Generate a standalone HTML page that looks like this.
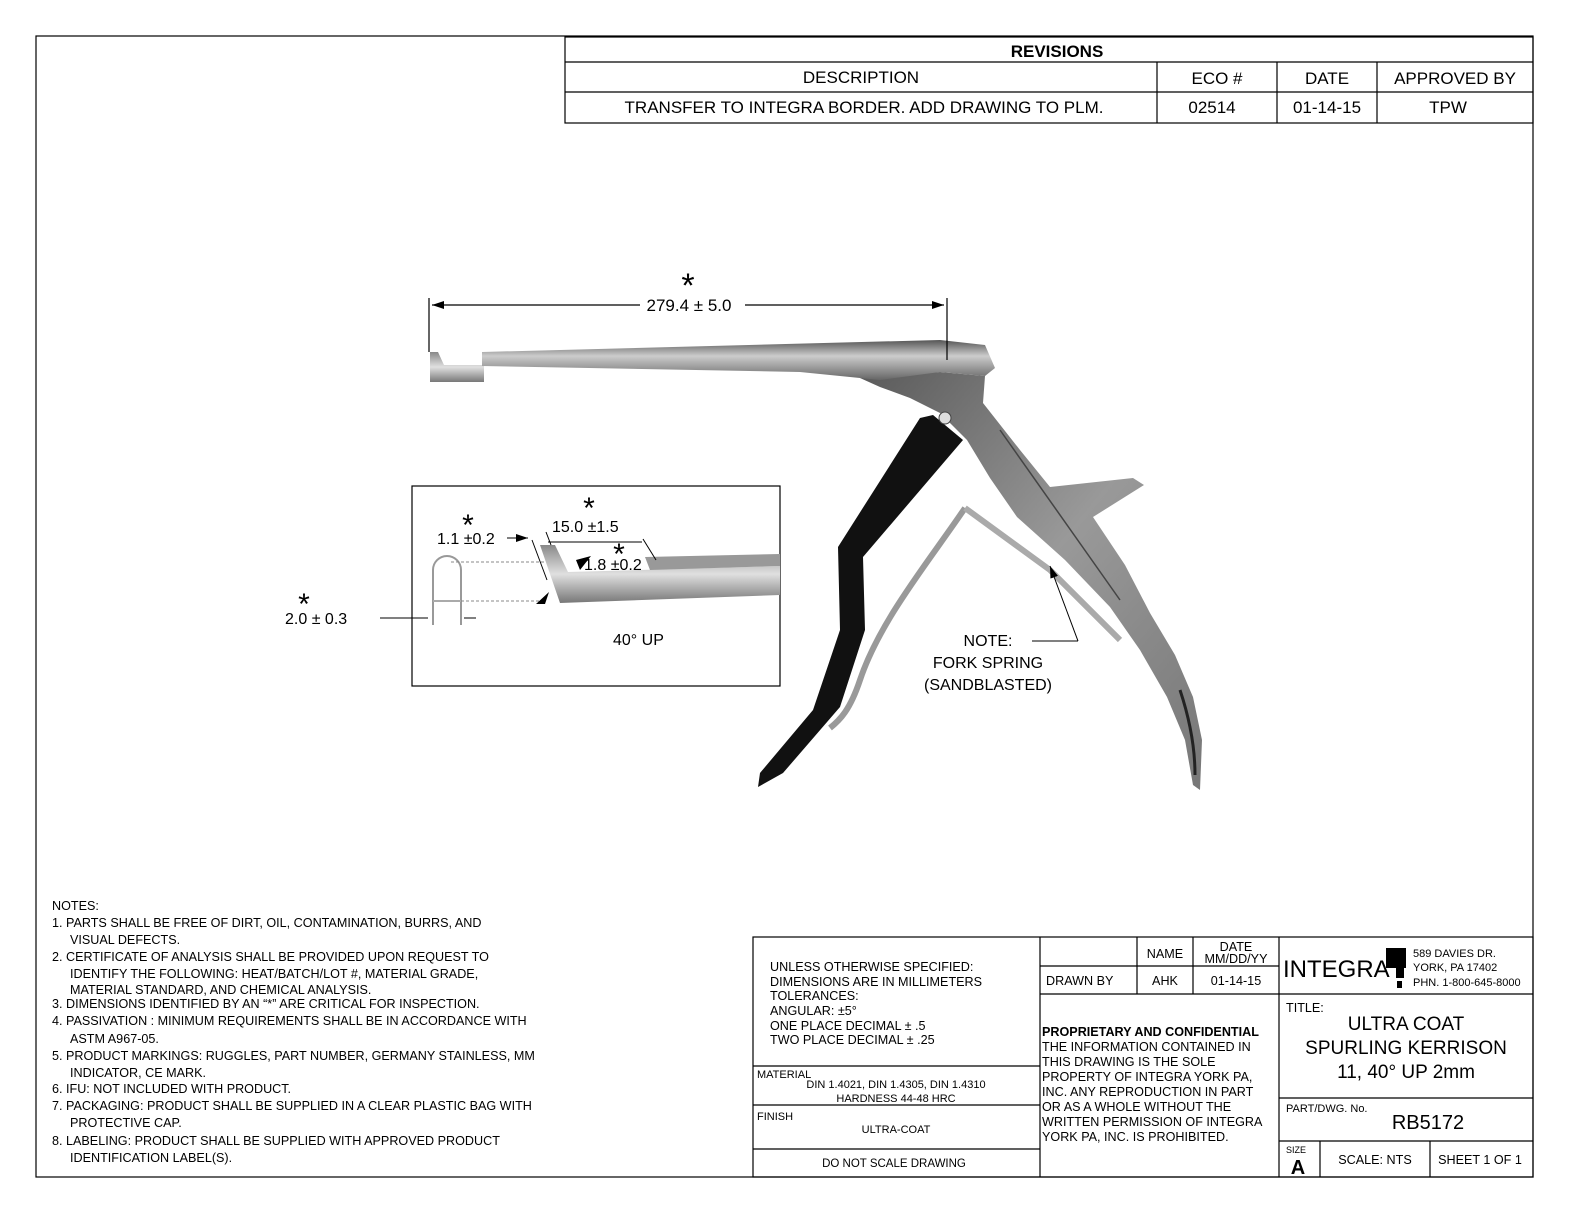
<!DOCTYPE html>
<html><head><meta charset="utf-8"><style>
html,body{margin:0;padding:0;background:#fff;overflow:hidden;width:1584px;height:1224px;}
svg{display:block;font-family:"Liberation Sans",sans-serif;}
</style></head><body>
<svg width="1584" height="1224" viewBox="0 0 1584 1224" xmlns="http://www.w3.org/2000/svg">
<defs>
<linearGradient id="sh" x1="0" y1="0" x2="0" y2="1">
<stop offset="0" stop-color="#555"/><stop offset=".4" stop-color="#ccc"/><stop offset="1" stop-color="#666"/></linearGradient>
<linearGradient id="mt" x1="0" y1="0" x2="1" y2="1">
<stop offset="0" stop-color="#5a5a5a"/><stop offset=".5" stop-color="#999"/><stop offset="1" stop-color="#777"/></linearGradient>
<linearGradient id="tp" x1="0" y1="0" x2="0" y2="1">
<stop offset="0" stop-color="#888"/><stop offset=".5" stop-color="#e0e0e0"/><stop offset="1" stop-color="#777"/></linearGradient>
<marker id="ar" markerWidth="12" markerHeight="8" refX="12" refY="4" orient="auto" markerUnits="userSpaceOnUse"><path d="M0,0 L12,4 L0,8z" fill="#000"/></marker>
</defs>
<g fill="none" stroke="#000" stroke-width="1.2">
<rect x="36" y="36" width="1497" height="1141"/>
<rect x="565" y="37" width="968" height="86"/>
<line x1="565" y1="62" x2="1533" y2="62"/><line x1="565" y1="92" x2="1533" y2="92"/>
<line x1="1157" y1="62" x2="1157" y2="123"/><line x1="1277" y1="62" x2="1277" y2="123"/><line x1="1377" y1="62" x2="1377" y2="123"/>
<rect x="753" y="937" width="780" height="240"/>
<line x1="1040" y1="937" x2="1040" y2="1177"/><line x1="1279" y1="937" x2="1279" y2="1177"/>
<line x1="753" y1="1066" x2="1040" y2="1066"/><line x1="753" y1="1105" x2="1040" y2="1105"/><line x1="753" y1="1149" x2="1040" y2="1149"/>
<line x1="1040" y1="966" x2="1279" y2="966"/><line x1="1040" y1="994" x2="1279" y2="994"/>
<line x1="1137" y1="937" x2="1137" y2="994"/><line x1="1193" y1="937" x2="1193" y2="994"/>
<line x1="1279" y1="994" x2="1533" y2="994"/><line x1="1279" y1="1098" x2="1533" y2="1098"/><line x1="1279" y1="1141" x2="1533" y2="1141"/>
<line x1="1320" y1="1141" x2="1320" y2="1177"/><line x1="1430" y1="1141" x2="1430" y2="1177"/>
<rect x="412" y="486" width="368" height="200"/>
</g>
<g font-size="17" text-anchor="middle">
<text x="1057" y="57" font-weight="bold">REVISIONS</text>
<text x="861" y="83">DESCRIPTION</text><text x="1217" y="84">ECO #</text><text x="1327" y="84">DATE</text><text x="1455" y="84">APPROVED BY</text>
<text x="864" y="113">TRANSFER TO INTEGRA BORDER. ADD DRAWING TO PLM.</text><text x="1212" y="113">02514</text><text x="1327" y="113">01-14-15</text><text x="1448" y="113">TPW</text>
</g>
<!-- instrument -->
<path d="M430,352 L438,352 L444,365 L484,365 L484,382 L430,382 Z" fill="url(#tp)"/>
<path d="M860,378 L940,372 L985,376 L983,403 L1020,450 L1050,487 L1133,478 L1144,485 L1093,517 L1125,565 L1150,613 L1175,655 L1193,697 L1202,740 L1200,790 L1193,785 L1185,740 L1167,697 L1140,650 L1110,607 L1065,560 L1017,517 L990,478 L967,440 L940,413 L910,398 L880,387 Z" fill="url(#mt)"/>
<path d="M482,352 L940,340 L985,345 L995,368 L985,376 L940,372 L880,380 L800,372 L482,366 Z" fill="url(#sh)"/>
<path d="M1180,690 C1190,720 1195,750 1195,775" fill="none" stroke="#222" stroke-width="3"/>
<path d="M1000,430 L1120,600" stroke="#444" stroke-width="1.5"/>
<path d="M920,418 L933,415 L963,440 L863,557 L865,630 L840,707 L783,773 L758,787 L760,773 L813,710 L840,630 L838,547 Z" fill="#111"/>
<path d="M965,508 C930,560 880,620 860,680 C850,710 840,720 830,728" fill="none" stroke="#999" stroke-width="6"/>
<path d="M965,508 L1050,570 L1120,640" fill="none" stroke="#aaa" stroke-width="6"/>
<circle cx="945" cy="418" r="6" fill="#ddd" stroke="#444"/>
<!-- top dimension -->
<g stroke="#000" stroke-width="1.2">
<line x1="429" y1="298" x2="429" y2="352"/><line x1="947" y1="298" x2="947" y2="360"/>
<line x1="640" y1="305" x2="432" y2="305" marker-end="url(#ar)"/>
<line x1="745" y1="305" x2="944" y2="305" marker-end="url(#ar)"/>
</g>
<text x="688" y="297" font-size="34" text-anchor="middle">*</text>
<text x="689" y="311" font-size="17" text-anchor="middle">279.4 ± 5.0</text>
<!-- inset -->
<path d="M540,545 L555,545 L568,572 L780,566 L780,595 L560,603 Z" fill="url(#tp)"/>
<path d="M645,557 L780,554 L780,566 L650,570 Z" fill="#999"/>
<path d="M433,625 L433,570 A14,14 0 0 1 461,570 L461,625" fill="none" stroke="#999" stroke-width="2"/>
<line x1="433" y1="601" x2="461" y2="601" stroke="#aaa" stroke-width="2"/>
<g stroke="#888" stroke-dasharray="3,2" stroke-width="1"><line x1="451" y1="562" x2="545" y2="562"/><line x1="461" y1="601" x2="540" y2="601"/></g>
<g stroke="#000" stroke-width="1">
<line x1="507" y1="538" x2="528" y2="538" marker-end="url(#ar)"/>
<line x1="532" y1="540" x2="547" y2="580"/>
<line x1="546" y1="532" x2="551" y2="545"/><line x1="643" y1="539" x2="656" y2="560"/>
<line x1="548" y1="542" x2="642" y2="542"/>
<line x1="380" y1="618" x2="428" y2="618"/>
<line x1="464" y1="618" x2="476" y2="618"/>
</g>
<path d="M576,560 L591,556 L580,570Z M536,604 L549,592 L545,604Z" fill="#000"/>
<g font-size="30" text-anchor="middle"><text x="468" y="535">*</text><text x="589" y="518">*</text><text x="619" y="564">*</text><text x="304" y="614">*</text></g>
<g font-size="16">
<text x="437" y="544">1.1 ±0.2</text><text x="552" y="532">15.0 ±1.5</text><text x="584" y="570">1.8 ±0.2</text>
<text x="285" y="624">2.0 ± 0.3</text><text x="613" y="645">40° UP</text>
</g>
<g font-size="16" text-anchor="middle"><text x="988" y="646">NOTE:</text><text x="988" y="668">FORK SPRING</text><text x="988" y="690">(SANDBLASTED)</text></g>
<g stroke="#000" stroke-width="1"><line x1="1032" y1="641" x2="1078" y2="641"/><line x1="1078" y1="641" x2="1050" y2="566" marker-end="url(#ar)"/></g>
<!-- notes -->
<g font-size="12.6">
<text x="52" y="910">NOTES:</text>
<text x="52" y="927">1.  PARTS SHALL BE FREE OF DIRT, OIL, CONTAMINATION, BURRS, AND</text>
<text x="70" y="944">VISUAL DEFECTS.</text>
<text x="52" y="961">2.  CERTIFICATE OF ANALYSIS SHALL BE PROVIDED UPON REQUEST TO</text>
<text x="70" y="978">IDENTIFY THE FOLLOWING: HEAT/BATCH/LOT #, MATERIAL GRADE,</text>
<text x="70" y="994">MATERIAL STANDARD, AND CHEMICAL ANALYSIS.</text>
<text x="52" y="1008">3.  DIMENSIONS IDENTIFIED BY AN “*” ARE CRITICAL FOR INSPECTION.</text>
<text x="52" y="1025">4.  PASSIVATION : MINIMUM REQUIREMENTS SHALL BE IN ACCORDANCE WITH</text>
<text x="70" y="1043">ASTM A967-05.</text>
<text x="52" y="1060">5.  PRODUCT MARKINGS: RUGGLES, PART NUMBER, GERMANY STAINLESS, MM</text>
<text x="70" y="1077">INDICATOR, CE MARK.</text>
<text x="52" y="1093">6.  IFU: NOT INCLUDED WITH PRODUCT.</text>
<text x="52" y="1110">7.  PACKAGING: PRODUCT  SHALL BE SUPPLIED IN A CLEAR PLASTIC BAG WITH</text>
<text x="70" y="1127">PROTECTIVE CAP.</text>
<text x="52" y="1145">8.  LABELING: PRODUCT SHALL BE SUPPLIED WITH APPROVED PRODUCT</text>
<text x="70" y="1162">IDENTIFICATION LABEL(S).</text>
</g>
<!-- title block text -->
<g font-size="12.6">
<text x="770" y="971">UNLESS OTHERWISE SPECIFIED:</text>
<text x="770" y="986">DIMENSIONS ARE IN MILLIMETERS</text>
<text x="770" y="1000">TOLERANCES:</text>
<text x="770" y="1015">ANGULAR: ±5°</text>
<text x="770" y="1030">ONE PLACE DECIMAL ± .5</text>
<text x="770" y="1044">TWO PLACE DECIMAL ± .25</text>
<text x="757" y="1078" font-size="11">MATERIAL</text>
<text x="896" y="1088" font-size="11" text-anchor="middle">DIN 1.4021, DIN 1.4305, DIN 1.4310</text>
<text x="896" y="1102" font-size="11" text-anchor="middle">HARDNESS 44-48 HRC</text>
<text x="757" y="1120" font-size="11">FINISH</text>
<text x="896" y="1133" font-size="11" text-anchor="middle">ULTRA-COAT</text>
<text x="894" y="1167" font-size="11.5" text-anchor="middle">DO NOT SCALE DRAWING</text>
<text x="1165" y="958" text-anchor="middle">NAME</text>
<text x="1236" y="951" text-anchor="middle">DATE</text><text x="1236" y="963" text-anchor="middle">MM/DD/YY</text>
<text x="1046" y="985">DRAWN BY</text><text x="1165" y="985" text-anchor="middle">AHK</text><text x="1236" y="985" text-anchor="middle">01-14-15</text>
<text x="1042" y="1036" font-weight="bold">PROPRIETARY AND CONFIDENTIAL</text>
<text x="1042" y="1051">THE INFORMATION CONTAINED IN</text>
<text x="1042" y="1066">THIS DRAWING IS THE SOLE</text>
<text x="1042" y="1081">PROPERTY OF INTEGRA YORK PA,</text>
<text x="1042" y="1096">INC.  ANY REPRODUCTION IN PART</text>
<text x="1042" y="1111">OR AS A WHOLE WITHOUT THE</text>
<text x="1042" y="1126">WRITTEN PERMISSION OF INTEGRA</text>
<text x="1042" y="1141">YORK PA, INC. IS PROHIBITED.</text>
<text x="1286" y="1012">TITLE:</text>
<text x="1286" y="1112" font-size="11">PART/DWG. No.</text>
<text x="1286" y="1153" font-size="9">SIZE</text>
<text x="1375" y="1164" text-anchor="middle">SCALE: NTS</text>
<text x="1480" y="1164" text-anchor="middle">SHEET 1 OF 1</text>
<text x="1413" y="957" font-size="11">589 DAVIES DR.</text>
<text x="1413" y="971" font-size="11">YORK, PA 17402</text>
<text x="1413" y="986" font-size="11">PHN. 1-800-645-8000</text>
</g>
<text x="1283" y="977" font-size="24">INTEGRA</text>
<rect x="1386" y="948" width="20" height="20" fill="#000"/><rect x="1396" y="968" width="8" height="10" fill="#000"/><rect x="1397" y="981" width="5" height="7" fill="#000"/>
<g font-size="19" text-anchor="middle"><text x="1406" y="1030">ULTRA COAT</text><text x="1406" y="1054">SPURLING KERRISON</text><text x="1406" y="1078">11, 40° UP 2mm</text></g>
<text x="1428" y="1129" font-size="20" text-anchor="middle">RB5172</text>
<text x="1298" y="1174" font-size="20" font-weight="bold" text-anchor="middle">A</text>
</svg>
</body></html>
